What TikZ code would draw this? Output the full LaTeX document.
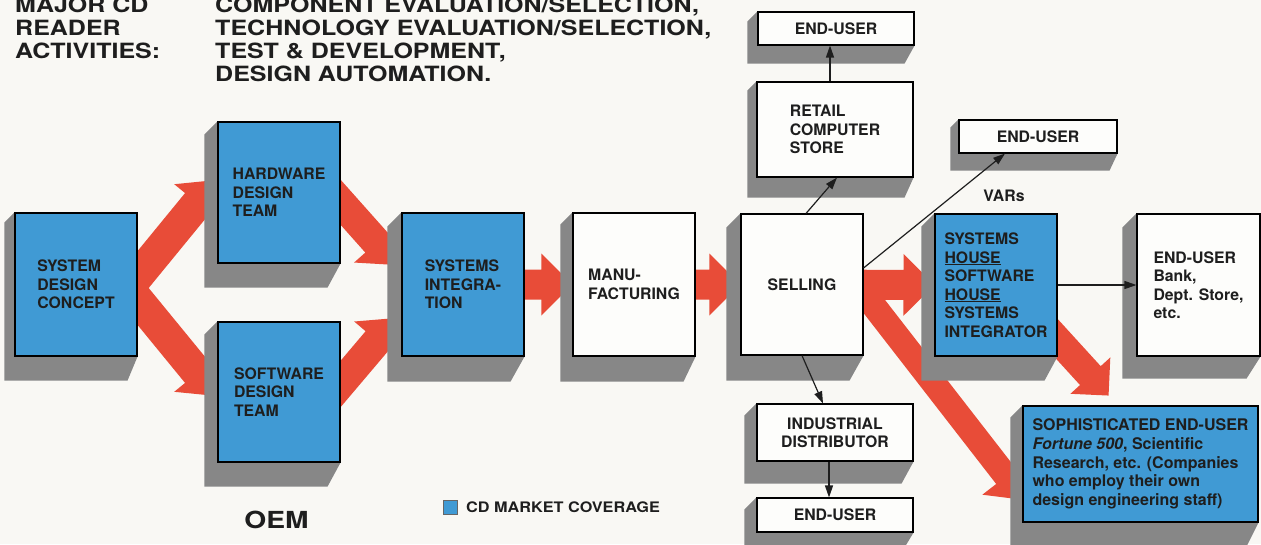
\documentclass[tikz,border=0pt]{standalone}
\usepackage{fontspec}
\setmainfont{TeX Gyre Heros}
\usetikzlibrary{calc,arrows.meta}
\definecolor{bgcol}{RGB}{249,248,244}
\definecolor{cdblue}{RGB}{64,154,212}
\definecolor{arrowred}{RGB}{232,76,56}
\definecolor{shadowgray}{RGB}{135,135,135}
\definecolor{paper}{RGB}{253,253,251}
\definecolor{ink}{RGB}{30,30,30}
\pgfdeclarelayer{bglayer}
\pgfdeclarelayer{arrowlayer}
\pgfdeclarelayer{shadowlayer}
\pgfdeclarelayer{frontlayer}
\pgfsetlayers{bglayer,arrowlayer,shadowlayer,main,frontlayer}
\newcommand\boxshadow[3]{\fill[shadowgray] (#1.north west) -- ++(-#2,#2) -- ($(#1.south west)+(-#2,#3)$) -- ($(#1.south east)+(-#2,#3)$) -- (#1.south east) -- cycle;}
\newcommand\fatarrow[4]{\fill[arrowred] let \p1=#1, \p2=#2, \n1={atan2(\y2-\y1,\x2-\x1)} in
 ($(\p1)+({\n1+90}:#3pt)$) -- ($(\p2)+({\n1+180}:#4pt)+({\n1+90}:#3pt)$) -- ($(\p2)+({\n1+180}:#4pt)+({\n1+90}:#4pt)$) -- (\p2) -- ($(\p2)+({\n1+180}:#4pt)+({\n1-90}:#4pt)$) -- ($(\p2)+({\n1+180}:#4pt)+({\n1-90}:#3pt)$) -- ($(\p1)+({\n1-90}:#3pt)$) -- cycle;}
\tikzset{
 boxtext/.style={font=\bfseries\fontsize{15.8}{18.5}\selectfont, text=ink, align=left, inner sep=0pt},
 bluebox/.style={boxtext, draw=black, line width=1.1pt, fill=cdblue},
 whitebox/.style={boxtext, draw=black, line width=1.1pt, fill=paper},
 bigbox/.style={minimum width=122pt, minimum height=142pt},
 hdr/.style={font=\bfseries\fontsize{21}{23}\selectfont, text=ink, inner sep=0pt, anchor=base west, xscale=1.19, transform shape},
 thinarrow/.style={draw=ink, line width=1.2pt, -{Triangle[length=12pt,width=8pt]}},
}
\begin{document}
\begin{tikzpicture}[x=1pt,y=-1pt]
\useasboundingbox (0,0) rectangle (1261,544);
\begin{pgfonlayer}{bglayer}\fill[bgcol] (0,0) rectangle (1261,544);\end{pgfonlayer}

% header
\node[hdr] (h1) at (15,12) {MAJOR CD};
\node[hdr] (h2) at (15,35) {READER};
\node[hdr] (h3) at (15,58) {ACTIVITIES:};
\node[hdr] (h4) at (215,12) {COMPONENT EVALUATION/SELECTION,};
\node[hdr] (h5) at (215,35) {TECHNOLOGY EVALUATION/SELECTION,};
\node[hdr] (h6) at (215,58) {TEST \& DEVELOPMENT,};
\node[hdr] (h7) at (215,81) {DESIGN AUTOMATION.};

% boxes
\node[bluebox, bigbox, minimum height=143pt] (sdc) at (76,284.5) {SYSTEM\\DESIGN\\CONCEPT};
\node[bluebox, bigbox, minimum height=141pt] (hw) at (279,192.5) {HARDWARE\\DESIGN\\TEAM};
\node[bluebox, bigbox, minimum height=140pt] (sw) at (279,392) {SOFTWARE\\DESIGN\\TEAM};
\node[bluebox, bigbox, minimum height=143pt] (si) at (463,284.5) {SYSTEMS\\INTEGRA-\\TION};
\node[whitebox, bigbox, minimum height=143pt] (mf) at (634,284.5) {MANU-\\FACTURING};
\node[whitebox, bigbox, minimum height=141pt] (sl) at (802,284.5) {SELLING};
\node[whitebox, minimum width=156pt, minimum height=95pt] (rc) at (835,129.5) {RETAIL\\COMPUTER\\STORE};
\node[whitebox, minimum width=156pt, minimum height=33pt] (eu1) at (836,28.5) {END-USER};
\node[whitebox, minimum width=158pt, minimum height=33pt] (eu2) at (1038,136.5) {END-USER};
\node[bluebox, bigbox, minimum height=142pt] (sh) at (996,285) {SYSTEMS\\\underline{HOUSE}\\SOFTWARE\\\underline{HOUSE}\\SYSTEMS\\INTEGRATOR};
\node[whitebox, minimum width=123pt, minimum height=142pt] (eb) at (1198.5,285) {END-USER\\Bank,\\Dept. Store,\\etc.};
\node[whitebox, minimum width=156pt, minimum height=57pt, align=center] (id) at (835,432.5) {INDUSTRIAL\\DISTRIBUTOR};
\node[whitebox, minimum width=156pt, minimum height=34pt] (eu3) at (835,515) {END-USER};
\node[bluebox, minimum width=235pt, minimum height=116pt, font=\bfseries\fontsize{16}{18.7}\selectfont] (so) at (1140.5,464) {SOPHISTICATED END-USER\\\textit{Fortune 500}, Scientific\\Research, etc. (Companies\\who employ their own\\design engineering staff)};

% legend and labels
\node[fill=cdblue, draw=black!60, line width=0.6pt, minimum size=14pt, inner sep=0pt] (legsq) at (450.5,507) {};
\node[font=\bfseries\fontsize{14.5}{16}\selectfont, text=ink, inner sep=0pt, anchor=base west, xscale=1.12, transform shape] (legtxt) at (466,512) {CD MARKET COVERAGE};
\node[font=\bfseries\fontsize{23.5}{26}\selectfont, text=ink, inner sep=0pt, anchor=base, xscale=1.2, transform shape] (oem) at (276.5,528.5) {OEM};
\node[boxtext] (vars) at (1004,196) {VARs};

% shadows
\begin{pgfonlayer}{shadowlayer}
\boxshadow{sdc}{10}{24}
\boxshadow{hw}{13}{24}
\boxshadow{sw}{13}{24}
\boxshadow{si}{14}{25}
\boxshadow{mf}{12}{25}
\boxshadow{sl}{14}{25}
\boxshadow{rc}{9}{20}
\boxshadow{eu1}{10}{18}
\boxshadow{eu2}{8}{17}
\boxshadow{sh}{13}{24}
\boxshadow{eb}{14}{22}
\boxshadow{id}{12}{22}
\boxshadow{eu3}{12}{20}
\boxshadow{so}{12}{24}
\end{pgfonlayer}

% red flow arrows
\begin{pgfonlayer}{arrowlayer}
\fatarrow{($(sdc.center)+(52,3.5)$)}{($(hw.west)+(-1,-12.5)$)}{16}{30}
\fatarrow{($(sdc.center)+(52,3.5)$)}{($(sw.west)+(-1,4)$)}{16}{30}
\fatarrow{($(hw.center)+(48,-5.5)$)}{($(si.west)+(-5,-19.5)$)}{15}{30}
\fatarrow{($(sw.center)+(48,8)$)}{($(si.west)+(-5,33.5)$)}{15}{30}
\fatarrow{(si.center)}{(mf.west)}{15}{31}
\fatarrow{(mf.center)}{(sl.west)}{15}{31}
\fatarrow{(sl.center)}{(sh.west)}{15}{31}
\fatarrow{($(sl.center)+(49,-8)$)}{($(so.west)+(2,36)$)}{12.5}{30}
\fatarrow{($(sh.center)+(40,31)$)}{($(sh.south east)+(51,39)$)}{14}{27}
\end{pgfonlayer}

% thin connectors
\begin{pgfonlayer}{frontlayer}
\draw[thinarrow] ($(sl.north)+(4,0)$) -- ($(rc.south)+(2,0)$);
\draw[thinarrow] ($(rc.north)+(-5,0)$) -- ($(eu1.south)+(-6,0)$);
\draw[thinarrow] ($(sl.east)+(0,-16.5)$) -- ($(eu2.south)+(-33,0)$);
\draw[thinarrow] (sl.south) -- ($(id.north)+(-12,0)$);
\draw[thinarrow] ($(id.south)+(-6,0)$) -- ($(eu3.north)+(-6,0)$);
\draw[thinarrow] (sh.east) -- (eb.west);
\end{pgfonlayer}
\end{tikzpicture}
\end{document}
